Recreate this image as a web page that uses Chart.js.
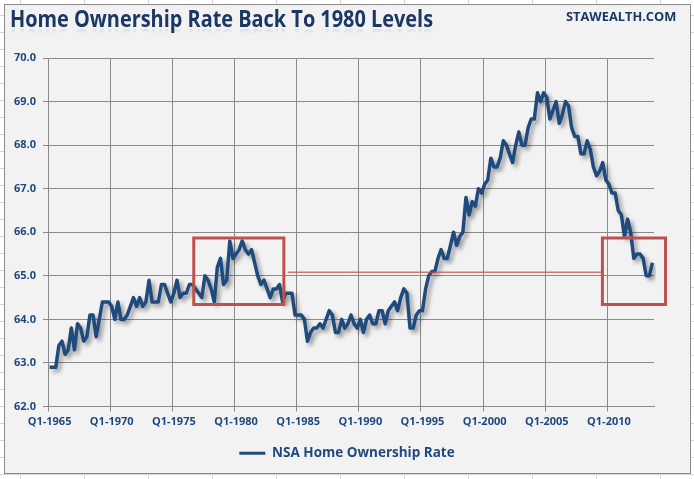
<!DOCTYPE html>
<html>
<head>
<meta charset="utf-8">
<script src="https://cdn.jsdelivr.net/npm/chart.js@4/dist/chart.umd.min.js"></script>
<style>
  html, body { margin: 0; padding: 0; }
  body {
    width: 694px; height: 479px; overflow: hidden; position: relative;
    background-color: #fff;
    background-image:
      linear-gradient(to right, #d6d6d6 1px, transparent 1px),
      linear-gradient(to bottom, #d6d6d6 1px, transparent 1px);
    background-size: 64px 100%, 100% 17px;
    background-position: 20px 0, 0 15px;
    font-family: 'Open Sans', sans-serif;
  }
  #frame {
    position: absolute; left: 4px; top: 4px; width: 685px; height: 468px;
    border: 1px solid #8a8a8a; background: #f2f2f2;
  }
  #title {
    position: absolute; left: 10px; top: 3px; line-height: 30px;
    font-size: 23px; font-weight: bold; color: #1b3764; white-space: nowrap;
    transform-origin: 0 0;
    -webkit-box-reflect: below -10px linear-gradient(transparent 62%, rgba(255,255,255,0.22));
  }
  #brand {
    position: absolute; left: 566px; top: 9px; line-height: 16px;
    font-size: 12px; font-weight: bold; color: #1b3764; white-space: nowrap;
    transform-origin: 0 0;
  }
  canvas { position: absolute; left: 0; top: 0; }
</style>
</head>
<body>
<div id="frame"></div>
<div id="title">Home Ownership Rate Back To 1980 Levels</div>
<div id="brand">STAWEALTH.COM</div>
<canvas id="chart" width="694" height="479"></canvas>
<script>
// NSA home ownership rate, quarterly from Q1-1965
const ownershipRate = [
  62.9, 62.9, 62.9, 63.4,  63.5, 63.2, 63.3, 63.8,  63.3, 63.9, 63.8, 63.5,  63.6, 64.1, 64.1, 63.6,
  64.0, 64.4, 64.4, 64.4,  64.3, 64.0, 64.4, 64.0,  64.0, 64.1, 64.3, 64.5,  64.3, 64.5, 64.3, 64.4,
  64.9, 64.4, 64.4, 64.4,  64.8, 64.8, 64.6, 64.4,  64.6, 64.9, 64.5, 64.6,  64.6, 64.8, 64.8, 64.7,
  64.6, 64.5, 65.0, 64.9,  64.7, 64.4, 65.2, 65.4,  64.8, 64.9, 65.8, 65.4,  65.5, 65.6, 65.8, 65.6,
  65.5, 65.6, 65.3, 65.0,  64.8, 64.9, 64.7, 64.5,  64.7, 64.7, 64.8, 64.4,  64.6, 64.6, 64.6, 64.1,
  64.1, 64.1, 64.0, 63.5,  63.7, 63.8, 63.8, 63.9,  63.8, 64.0, 64.2, 64.1,  63.7, 63.7, 64.0, 63.8,
  63.9, 64.1, 63.9, 63.8,  64.0, 63.7, 64.0, 64.1,  63.9, 63.9, 64.2, 64.2,  63.9, 64.2, 64.3, 64.4,
  64.2, 64.5, 64.7, 64.6,  63.8, 63.8, 64.1, 64.2,  64.2, 64.7, 65.0, 65.1,  65.1, 65.4, 65.6, 65.4,
  65.4, 65.7, 66.0, 65.7,  65.9, 66.0, 66.8, 66.4,  66.7, 66.6, 67.0, 66.9,  67.1, 67.2, 67.7, 67.5,
  67.5, 67.7, 68.1, 68.0,  67.8, 67.6, 68.0, 68.3,  68.0, 68.0, 68.4, 68.6,  68.6, 69.2, 69.0, 69.2,
  69.1, 68.6, 68.8, 69.0,  68.5, 68.7, 69.0, 68.9,  68.4, 68.2, 68.2, 67.8,  67.8, 68.1, 67.9, 67.5,
  67.3, 67.4, 67.6, 67.2,  67.1, 66.9, 66.9, 66.5,  66.4, 65.9, 66.3, 66.0,  65.4, 65.5, 65.5, 65.4,
  65.0, 65.0, 65.3
];
const FIRST_YEAR = 1965;
const LABEL_EVERY = 20; // one label every 5 years

const quarterLabels = [];
for (let i = 0; i < ownershipRate.length; i++) {
  quarterLabels.push('Q' + (i % 4 + 1) + '-' + (FIRST_YEAR + Math.floor(i / 4)));
}

const yTicks = [62, 70];          // axis range
// highlight boxes, in quarter-index units along x and rate units along y
const boxRate = [64.34, 65.87];
const box1980 = [46.4, 75.4];
const boxToday = [177.9, 198.2];
// level line linking the two boxes
const levelRate = 65.08;
const levelSpan = [76.6, 177.9];

const BLUE = '#1f4a7e';
const RED = '#c0504d';
const GRID = '#8a8a8a';
const TEXT = '#1f497d';

function boxPoints(xr, yr) {
  return [
    { x: xr[0], y: yr[1] }, { x: xr[1], y: yr[1] },
    { x: xr[1], y: yr[0] }, { x: xr[0], y: yr[0] },
    { x: xr[0], y: yr[1] }
  ];
}

// soft drop shadow under the main series, like the Excel line effect
const lineShadow = {
  id: 'lineShadow',
  beforeDatasetDraw(chart, args) {
    if (args.index !== 0) return;
    const c = chart.ctx;
    c.save();
    c.shadowColor = 'rgba(0,0,0,0.38)';
    c.shadowBlur = 4;
    c.shadowOffsetX = 3;
    c.shadowOffsetY = 3;
  },
  afterDatasetDraw(chart, args) {
    if (args.index === 0) chart.ctx.restore();
  }
};

Chart.defaults.font.family = "'Open Sans', sans-serif";

const boxStyle = {
  type: 'line', xAxisID: 'x2', borderColor: RED, borderWidth: 3,
  pointRadius: 0, clip: false, order: 0,
  borderCapStyle: 'square', borderJoinStyle: 'miter', fill: false
};

new Chart(document.getElementById('chart'), {
  type: 'line',
  data: {
    labels: quarterLabels,
    datasets: [
      {
        label: 'NSA Home Ownership Rate',
        data: ownershipRate,
        borderColor: BLUE,
        backgroundColor: BLUE,
        borderWidth: 3.5,
        pointRadius: 0,
        tension: 0,
        borderJoinStyle: 'round',
        order: 2
      },
      Object.assign({ label: 'box1980', data: boxPoints(box1980, boxRate) }, boxStyle),
      Object.assign({ label: 'boxToday', data: boxPoints(boxToday, boxRate) }, boxStyle),
      {
        label: 'level', type: 'line', xAxisID: 'x2',
        data: [{ x: levelSpan[0], y: levelRate }, { x: levelSpan[1], y: levelRate }],
        borderColor: 'rgba(192,80,77,0.75)', borderWidth: 1.5,
        pointRadius: 0, order: 1
      }
    ]
  },
  options: {
    responsive: false,
    animation: false,
    devicePixelRatio: 1,
    layout: { padding: { top: 58, bottom: 9, left: 0, right: 0 } },
    scales: {
      x: {
        type: 'category',
        offset: true,
        grid: {
          offset: true,
          tickLength: 5,
          color: ctx => (ctx.index % LABEL_EVERY === 0 ? GRID : 'rgba(0,0,0,0)')
        },
        border: { color: GRID },
        ticks: {
          autoSkip: false, maxRotation: 0, minRotation: 0, padding: 4,
          color: TEXT, font: { size: 11, weight: 'bold' },
          callback(v, i) { return i % LABEL_EVERY === 0 ? this.getLabelForValue(v) : ''; }
        },
        afterFit(s) { s.height = 33; }
      },
      x2: {
        type: 'linear', display: false,
        min: -0.5, max: ownershipRate.length - 0.5
      },
      y: {
        min: yTicks[0], max: yTicks[1],
        grid: { color: GRID, tickLength: 5 },
        border: { color: GRID },
        ticks: {
          stepSize: 1, padding: 7, color: TEXT,
          font: { size: 11, weight: 'bold' },
          callback: v => v.toFixed(1)
        },
        afterFit(s) { s.width = 48; }
      },
      yPad: {
        position: 'right', display: true,
        grid: { display: false }, ticks: { display: false }, border: { display: false },
        afterFit(s) { s.width = 40; }
      }
    },
    plugins: {
      title: { display: false },
      tooltip: { enabled: false },
      legend: {
        position: 'bottom',
        labels: {
          boxWidth: 26, boxHeight: 3, padding: 7, color: TEXT,
          font: { size: 13.5, weight: 'bold' },
          generateLabels: chart => [{
            text: chart.data.datasets[0].label,
            fillStyle: BLUE, strokeStyle: BLUE, lineWidth: 0,
            fontColor: TEXT, hidden: false, datasetIndex: 0
          }]
        }
      }
    }
  },
  plugins: [lineShadow]
});

// squeeze the header texts to the widths they take in the original
function fitWidth(id, w) {
  const el = document.getElementById(id);
  el.style.transform = 'scaleX(' + (w / el.scrollWidth) + ')';
}
fitWidth('title', 423);
fitWidth('brand', 110);
</script>
</body>
</html>
